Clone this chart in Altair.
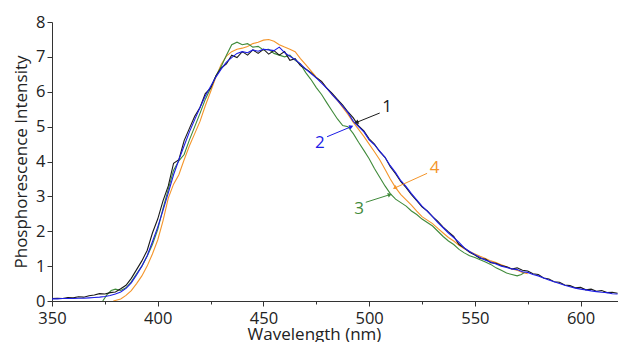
import altair as alt
import pandas as pd

# ---- data (estimated by eye) ----
wl_12 = [350 + 2.5 * i for i in range(108)]  # 350 ... 617.5 nm sampling
s1 = [0.07, 0.08, 0.07, 0.10, 0.09, 0.12, 0.11, 0.15, 0.17, 0.21, 0.20, 0.24, 0.26, 0.35, 0.45, 0.65,
      0.90, 1.15, 1.45, 1.95, 2.35, 2.87, 3.30, 3.95, 4.05, 4.60, 4.95, 5.30, 5.55, 5.95, 6.10, 6.45,
      6.68, 6.80, 7.05, 6.98, 7.15, 7.05, 7.20, 7.10, 7.22, 7.08, 7.18, 7.05, 7.15, 6.90, 6.95, 6.75,
      6.65, 6.55, 6.40, 6.30, 6.10, 5.95, 5.78, 5.62, 5.42, 5.25, 5.02, 4.88, 4.65, 4.50, 4.28, 4.12,
      3.85, 3.65, 3.42, 3.25, 3.05, 2.88, 2.70, 2.58, 2.42, 2.28, 2.12, 1.98, 1.85, 1.62, 1.52, 1.40,
      1.32, 1.22, 1.20, 1.10, 1.08, 1.02, 0.98, 0.92, 0.95, 0.88, 0.86, 0.78, 0.76, 0.66, 0.63, 0.55,
      0.54, 0.46, 0.44, 0.38, 0.39, 0.32, 0.34, 0.28, 0.30, 0.24, 0.25, 0.22]
s2 = [0.06, 0.06, 0.07, 0.07, 0.07, 0.08, 0.08, 0.09, 0.10, 0.11, 0.13, 0.16, 0.20, 0.26, 0.36, 0.52,
      0.75, 1.00, 1.30, 1.70, 2.12, 2.60, 3.10, 3.62, 4.05, 4.45, 4.85, 5.20, 5.55, 5.88, 6.15, 6.42,
      6.65, 6.85, 6.98, 7.10, 7.15, 7.12, 7.20, 7.16, 7.22, 7.20, 7.18, 7.28, 7.12, 7.02, 6.92, 6.80,
      6.65, 6.52, 6.40, 6.25, 6.10, 5.92, 5.75, 5.58, 5.40, 5.15, 5.00, 4.85, 4.62, 4.48, 4.30, 4.12,
      3.88, 3.68, 3.45, 3.28, 3.08, 2.90, 2.72, 2.58, 2.42, 2.25, 2.10, 1.95, 1.82, 1.68, 1.52, 1.42,
      1.33, 1.25, 1.17, 1.12, 1.06, 1.00, 0.96, 0.92, 0.90, 0.84, 0.82, 0.76, 0.72, 0.66, 0.60, 0.55,
      0.50, 0.45, 0.41, 0.37, 0.34, 0.32, 0.29, 0.27, 0.25, 0.24, 0.21, 0.20]

wl_3 = [374, 376, 378, 380, 382.5, 385, 387.5, 390, 392.5, 395, 397.5, 400, 402.5, 405, 407.5,
        410, 412.5, 415, 417.5, 420, 422.5, 425, 427.5, 430, 432.5, 435, 437.5, 440, 442.5, 445,
        447.5, 450, 452.5, 455, 457.5, 460, 462.5, 465, 467.5, 470, 472.5, 475, 477.5, 480, 482.5,
        485, 487.5, 490, 492.5, 495, 497.5, 500, 502.5, 505, 507.5, 510, 512.5, 515, 517.5, 520,
        522.5, 525, 527.5, 530, 532.5, 535, 537.5, 540, 542.5, 545, 547.5, 550, 552.5, 555, 557.5,
        560, 562.5, 565, 567.5, 570, 572, 573.5]
s3 = [0.00, 0.18, 0.30, 0.34, 0.30, 0.38, 0.55, 0.78, 1.00, 1.28, 1.62, 2.05, 2.65, 3.20, 3.75,
      4.02, 4.20, 4.62, 5.00, 5.38, 5.78, 6.10, 6.45, 6.72, 7.05, 7.35, 7.42, 7.35, 7.38, 7.28,
      7.30, 7.20, 7.22, 7.10, 7.05, 7.00, 7.05, 6.90, 6.80, 6.55, 6.35, 6.12, 5.92, 5.68, 5.45,
      5.22, 5.03, 5.00, 4.80, 4.55, 4.32, 4.08, 3.80, 3.55, 3.30, 3.08, 2.92, 2.82, 2.72, 2.58,
      2.48, 2.35, 2.25, 2.15, 2.00, 1.85, 1.72, 1.62, 1.48, 1.38, 1.30, 1.25, 1.18, 1.12, 1.05,
      0.95, 0.88, 0.80, 0.76, 0.72, 0.76, 0.82]

wl_4 = [379, 382.5, 385, 387.5, 390, 392.5, 395, 397.5, 400, 402.5, 405, 407.5, 410, 412.5, 415,
        417.5, 420, 422.5, 425, 427.5, 430, 432.5, 435, 437.5, 440, 442.5, 445, 447.5, 450, 452.5,
        455, 457.5, 460, 462.5, 465, 467.5, 470, 472.5, 475, 477.5, 480, 482.5, 485, 487.5, 490,
        492.5, 495, 497.5, 500, 502.5, 505, 507.5, 510, 512.5, 515, 517.5, 520, 522.5, 525, 527.5,
        530, 532.5, 535, 537.5, 540, 542.5, 545, 547.5, 550, 552.5, 555, 557.5, 560, 562.5, 565,
        567.5, 570, 572.5, 575]
s4 = [0.00, 0.06, 0.16, 0.30, 0.50, 0.72, 1.00, 1.35, 1.75, 2.30, 2.95, 3.35, 3.62, 4.05, 4.45,
      4.80, 5.15, 5.60, 6.00, 6.42, 6.78, 7.02, 7.15, 7.22, 7.25, 7.30, 7.38, 7.42, 7.48, 7.50,
      7.45, 7.35, 7.28, 7.22, 7.15, 6.95, 6.78, 6.60, 6.42, 6.28, 6.10, 5.92, 5.75, 5.55, 5.35,
      5.12, 4.92, 4.72, 4.50, 4.28, 4.05, 3.78, 3.50, 3.25, 3.05, 2.90, 2.75, 2.58, 2.42, 2.32,
      2.22, 2.08, 1.95, 1.82, 1.72, 1.60, 1.50, 1.42, 1.35, 1.28, 1.22, 1.15, 1.10, 1.04, 0.98,
      0.92, 0.88, 0.82, 0.78]

assert len(wl_12) == len(s1) == len(s2), (len(wl_12), len(s1), len(s2))
assert len(wl_3) == len(s3), (len(wl_3), len(s3))
assert len(wl_4) == len(s4), (len(wl_4), len(s4))

series_names = ["1", "2", "3", "4"]
series_colors = ["#1a1a1a", "#1c1ce6", "#3f8a3a", "#f4952a"]

# annotations: label position, arrow start, arrow end (data units)
ann_label = ["1", "2", "3", "4"]
ann_tx = [508.5, 476.7, 495.2, 531.0]
ann_ty = [5.57, 4.52, 2.65, 3.81]
ann_x0 = [505.0, 480.1, 498.4, 527.4]
ann_y0 = [5.39, 4.71, 2.83, 3.66]
ann_x1 = [494.0, 491.6, 509.8, 512.1]
ann_y1 = [5.12, 5.00, 3.05, 3.24]
ann_angle = [248, 68, 72, 246]

FONT = "Open Sans"
XMAX = 617.7

frames = []
for name, wl, vals in [("1", wl_12, s1), ("2", wl_12, s2), ("3", wl_3, s3), ("4", wl_4, s4)]:
    frames.append(pd.DataFrame({"wl": wl, "v": vals, "s": name}))
df = pd.concat(frames, ignore_index=True)

ann = pd.DataFrame({"lab": ann_label, "tx": ann_tx, "ty": ann_ty,
                    "x0": ann_x0, "y0": ann_y0, "x1": ann_x1, "y1": ann_y1,
                    "ang": ann_angle})

xscale = alt.Scale(domain=[350, XMAX], nice=False, zero=False)
yscale = alt.Scale(domain=[0, 8], nice=False, zero=False)
cscale = alt.Scale(domain=series_names, range=series_colors)

xaxis = alt.Axis(
    title="Wavelength (nm)",
    values=list(range(350, 601, 25)),
    labelExpr="datum.value % 50 === 0 ? datum.label : ''",
    tickSize={"condition": {"test": "datum.value % 50 === 0", "value": 5}, "value": 3},
    labelFlush=False, labelOverlap=False, labelBound=False,
    labelPadding=4, grid=False,
    titleX=262, titleY=38, titleAlign="center", titleBaseline="alphabetic",
)
yaxis = alt.Axis(
    title="Phosphorescence Intensity",
    values=[i * 0.5 for i in range(17)],
    format="d",
    labelExpr="datum.value % 1 === 0 ? datum.label : ''",
    tickSize={"condition": {"test": "datum.value % 1 === 0", "value": 5}, "value": 3},
    labelOverlap=False, labelFlush=False, labelBound=False,
    labelPadding=2, grid=False, titlePadding=5,
)

layers = []
for name in ["4", "3", "1", "2"]:
    layers.append(
        alt.Chart(df[df["s"] == name]).mark_line(strokeWidth=1.1, clip=True).encode(
            x=alt.X("wl:Q", scale=xscale, axis=xaxis),
            y=alt.Y("v:Q", scale=yscale, axis=yaxis),
            color=alt.Color("s:N", scale=cscale, legend=None),
            order="wl:Q",
        )
    )

arrows = alt.Chart(ann).mark_rule(strokeWidth=1).encode(
    x=alt.X("x0:Q", scale=xscale, axis=xaxis),
    y=alt.Y("y0:Q", scale=yscale, axis=yaxis),
    x2="x1:Q", y2="y1:Q",
    color=alt.Color("lab:N", scale=cscale, legend=None),
)
heads = alt.Chart(ann).mark_point(shape="triangle-up", filled=True, size=22, opacity=1).encode(
    x=alt.X("x1:Q", scale=xscale, axis=xaxis),
    y=alt.Y("y1:Q", scale=yscale, axis=yaxis),
    angle=alt.Angle("ang:Q", scale=None),
    color=alt.Color("lab:N", scale=cscale, legend=None),
)
texts = alt.Chart(ann).mark_text(fontSize=17, font=FONT).encode(
    x=alt.X("tx:Q", scale=xscale, axis=xaxis),
    y=alt.Y("ty:Q", scale=yscale, axis=yaxis),
    text="lab:N",
    color=alt.Color("lab:N", scale=cscale, legend=None),
)

chart = alt.layer(*layers, arrows, heads, texts).properties(
    width=566, height=279,
    autosize=alt.AutoSizeParams(type="none"),
    padding={"left": 52, "top": 22, "right": 0, "bottom": 41},
    background="white",
).configure_view(stroke=None).configure_axis(
    labelFont=FONT, titleFont=FONT, labelFontSize=16.5, titleFontSize=17,
    titleFontWeight="normal", labelColor="#222", titleColor="#222",
    domainColor="#333", tickColor="#333", domainWidth=1, tickWidth=1,
)

chart.save("out.html", embed_options={"renderer": "svg", "actions": False})
